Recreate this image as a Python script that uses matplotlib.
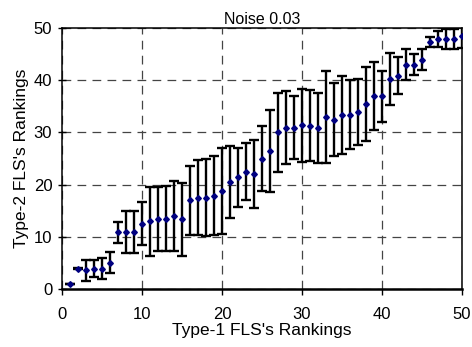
import matplotlib
matplotlib.use("Agg")
import matplotlib.pyplot as plt

plt.rcParams['font.family'] = ['Liberation Sans', 'DejaVu Sans']

title = "Noise 0.03"
xlabel = "Type-1 FLS's Rankings"
ylabel = "Type-2 FLS's Rankings"
ranks = list(range(1, 51))
means = [1.0, 3.9, 3.6, 3.9, 3.9, 5.0, 10.9, 10.9, 10.9, 12.5,
         13.0, 13.4, 13.5, 13.9, 13.4, 17.0, 17.5, 17.5, 17.9, 18.8,
         20.5, 21.4, 22.5, 22.0, 25.0, 26.4, 30.0, 30.9, 30.9, 31.4,
         31.3, 30.9, 32.9, 32.4, 33.4, 33.4, 33.9, 35.4, 36.9, 36.9,
         40.3, 40.9, 43.0, 43.0, 43.9, 47.3, 47.9, 47.9, 47.9, 48.4]
errs = [0.0, 0.1, 2.0, 1.6, 2.0, 2.0, 2.0, 4.0, 4.0, 4.1,
        6.6, 6.1, 6.3, 6.7, 7.0, 6.6, 7.2, 7.4, 7.6, 8.2,
        6.9, 5.6, 5.4, 6.5, 6.2, 7.9, 7.5, 7.0, 6.0, 7.0,
        6.8, 6.7, 8.8, 7.0, 7.5, 6.6, 6.4, 7.1, 6.5, 4.9,
        5.0, 3.5, 3.0, 2.0, 2.0, 1.0, 1.5, 2.0, 2.0, 2.2]
xticks = [0, 10, 20, 30, 40, 50]
yticks = [0, 10, 20, 30, 40, 50]

fig = plt.figure(figsize=(4.72, 3.47), dpi=100)
ax = fig.add_axes([62/472, 1-289/347, 400/472, 261/347])

ax.errorbar(ranks, means, yerr=errs, fmt='none', ecolor='black',
            elinewidth=1.7, capsize=3.3, capthick=1.7, zorder=2)
ax.plot(ranks, means, linestyle='none', marker='D', markersize=2.9,
        color='#000080', zorder=3)

ax.set_xlim(0, 50)
ax.set_ylim(0, 50)
ax.set_xticks(xticks)
ax.set_yticks(yticks)
ax.grid(True, color='#444444', linestyle=(0, (7, 5)), linewidth=0.9)
ax.set_axisbelow(True)

for s in ['left', 'right', 'top']:
    ax.spines[s].set_linewidth(1.1)
ax.spines['bottom'].set_linewidth(1.8)

ax.tick_params(axis='y', direction='inout', length=6, width=1, labelsize=12, pad=4)
ax.tick_params(axis='x', direction='out', length=4, width=1, labelsize=12, pad=9)

ax.set_title(title, fontsize=11.5, pad=3)
ax.set_xlabel(xlabel, fontsize=12.5, labelpad=1)
ax.set_ylabel(ylabel, fontsize=12.5, labelpad=3)

fig.savefig("out.png", dpi=100)
